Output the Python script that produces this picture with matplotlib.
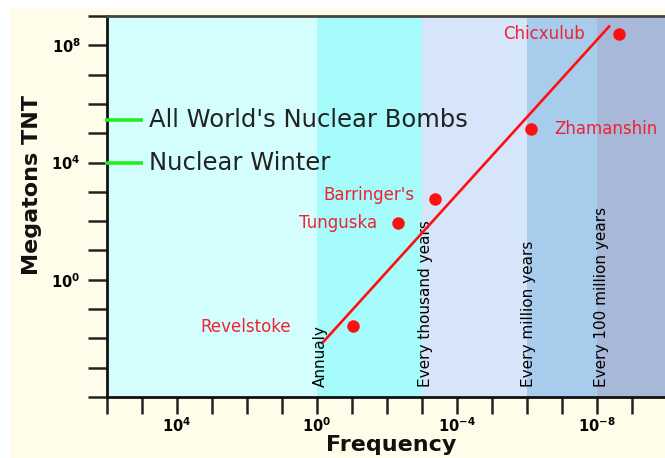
import numpy as np
import matplotlib
matplotlib.use('Agg')
import matplotlib.pyplot as plt
from matplotlib.patches import Rectangle
from matplotlib.ticker import NullLocator

# impact events: frequency (per year) vs energy (megatons TNT)
impacts = ['Revelstoke', 'Tunguska', "Barringer's", 'Zhamanshin', 'Chicxulub']
freq = [9.1e-2, 4.9e-3, 4.2e-4, 7.6e-7, 2.4e-9]
megatons = [2.7e-2, 85, 550, 1.35e5, 2.4e8]

# label anchor for each impact
label_x = [5.5, 1.95e-2, 1.6e-3, 1.7e-7, 2.2e-8]
label_y = [2.4e-2, 85, 8.1e2, 1.35e5, 2.4e8]
label_ha = ['right', 'right', 'right', 'left', 'right']

# fitted trend line end points
trend_freq = [0.66, 4.5e-9]
trend_mt = [7.6e-3, 4.4e8]

# human reference levels
ref_names = ["All World's Nuclear Bombs", 'Nuclear Winter']
ref_mt = [2.8e5, 1.0e4]

# frequency bands
band_edges = [1e6, 1e0, 1e-3, 1e-6, 1e-8, 1e-10]
band_colors = ['#d4fefe', '#a6fbfb', '#d6e5fa', '#a8cdec', '#a8b8d8']
band_names = ['Annualy', 'Every thousand years', 'Every million years',
              'Every 100 million years']
band_label_x = [8.2e-1, 8.0e-4, 9.3e-7, 7.2e-9]

xticks = [10.0 ** k for k in range(6, -11, -1)]
xlabels = {4: r'$\mathbf{10^{4}}$', 0: r'$\mathbf{10^{0}}$',
           -4: r'$\mathbf{10^{-4}}$', -8: r'$\mathbf{10^{-8}}$'}
yticks = [10.0 ** k for k in range(-4, 10)]
ylabels = {8: r'$\mathbf{10^{8}}$', 4: r'$\mathbf{10^{4}}$', 0: r'$\mathbf{10^{0}}$'}

fig = plt.figure(figsize=(6.65, 4.58), dpi=100)
fig.patch.set_facecolor('white')
fig.add_artist(Rectangle((11 / 665, 0), 1, 450 / 458, transform=fig.transFigure,
                         facecolor='#fffde9', edgecolor='none', zorder=-10))

ax = fig.add_axes([107 / 665, 61 / 458, 560 / 665, 381 / 458])
ax.set_xscale('log')
ax.set_yscale('log')
ax.set_xlim(1e6, 1e-10)
ax.set_ylim(1e-4, 1e9)

for i, c in enumerate(band_colors):
    ax.axvspan(band_edges[i], band_edges[i + 1], color=c, lw=0, zorder=0)

for name, x in zip(band_names, band_label_x):
    ax.text(x, 2.2e-4, name, rotation=90, ha='center', va='bottom',
            fontsize=11, color='#000000', zorder=3)

# trend line and impacts
ax.plot(trend_freq, trend_mt, color='#ff1010', lw=1.9, zorder=4)
ax.plot(freq, megatons, 'o', color='#ff1010', ms=9, mec='none', zorder=5)
for name, x, y, ha in zip(impacts, label_x, label_y, label_ha):
    ax.text(x, y, name, ha=ha, va='center', fontsize=12, color='#ee2233', zorder=5)

# nuclear reference markers
for name, y in zip(ref_names, ref_mt):
    ax.plot([1.15e6, 9.5e4], [y, y], color='#22ee22', lw=2.6,
            solid_capstyle='butt', clip_on=False, zorder=6)
    ax.text(6.3e4, y, name, ha='left', va='center', fontsize=17.5,
            color='#222222', zorder=6)

ax.set_xticks(xticks)
ax.set_xticklabels([xlabels.get(int(round(np.log10(t))), '') for t in xticks])
ax.set_yticks(yticks)
ax.set_yticklabels([ylabels.get(int(round(np.log10(t))), '') for t in yticks])
ax.xaxis.set_minor_locator(NullLocator())
ax.yaxis.set_minor_locator(NullLocator())
ax.tick_params(axis='x', direction='out', length=12, width=1.8, color='#222222',
               labelsize=10.5, pad=2)
ax.tick_params(axis='y', direction='out', length=14, width=1.8, color='#222222',
               labelsize=10.5, pad=5)

for side in ['left', 'bottom']:
    ax.spines[side].set_linewidth(2)
    ax.spines[side].set_color('#111111')
ax.spines['top'].set_linewidth(2)
ax.spines['top'].set_color('#444444')
ax.spines['right'].set_visible(False)

ax.text(-0.134, 0.556, 'Megatons TNT', transform=ax.transAxes, rotation=90,
        ha='center', va='center', fontsize=16, fontweight='bold', color='#111111')
ax.text(0.507, -0.126, 'Frequency', transform=ax.transAxes, ha='center',
        va='center', fontsize=16, fontweight='bold', color='#111111')

fig.savefig('out.png', dpi=100)
